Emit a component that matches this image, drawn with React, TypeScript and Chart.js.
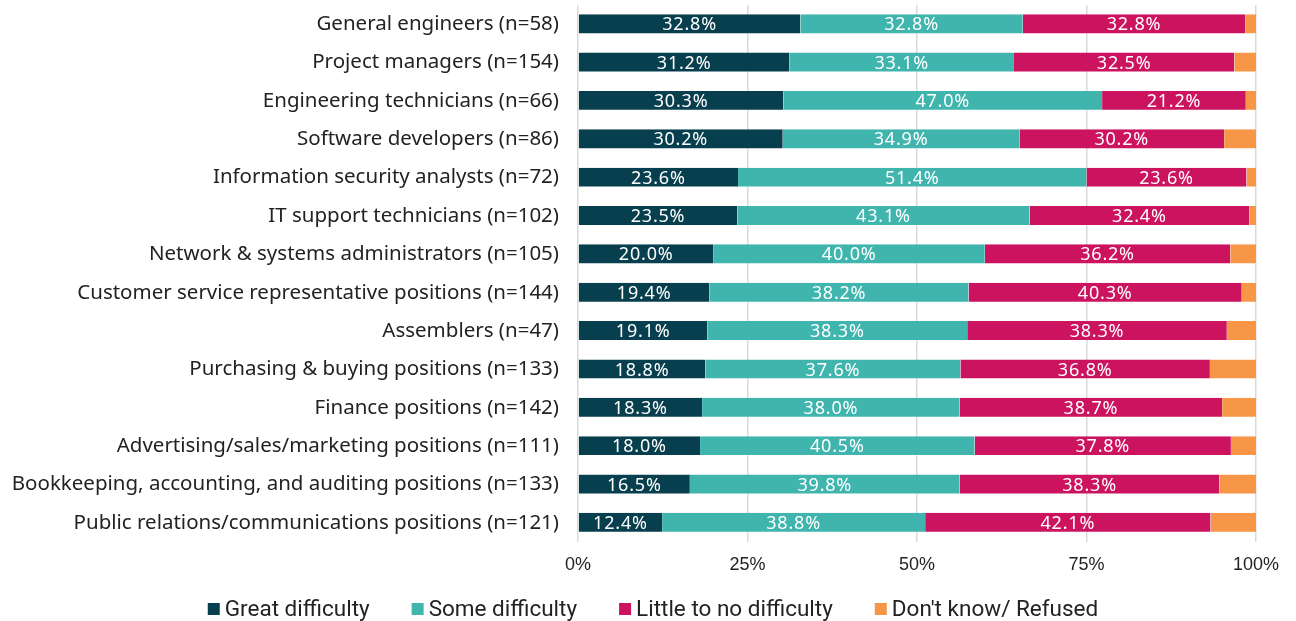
import React, { useEffect, useRef } from "react";
import { Chart, registerables } from "chart.js";

Chart.register(...registerables);

const categories = [
  "General engineers (n=58)",
  "Project managers (n=154)",
  "Engineering technicians (n=66)",
  "Software developers (n=86)",
  "Information security analysts (n=72)",
  "IT support technicians (n=102)",
  "Network & systems administrators (n=105)",
  "Customer service representative positions (n=144)",
  "Assemblers (n=47)",
  "Purchasing & buying positions (n=133)",
  "Finance positions (n=142)",
  "Advertising/sales/marketing positions (n=111)",
  "Bookkeeping, accounting, and auditing positions (n=133)",
  "Public relations/communications positions (n=121)",
];

const greatDifficulty = [32.8, 31.2, 30.3, 30.2, 23.6, 23.5, 20.0, 19.4, 19.1, 18.8, 18.3, 18.0, 16.5, 12.4];
const someDifficulty = [32.8, 33.1, 47.0, 34.9, 51.4, 43.1, 40.0, 38.2, 38.3, 37.6, 38.0, 40.5, 39.8, 38.8];
const littleDifficulty = [32.8, 32.5, 21.2, 30.2, 23.6, 32.4, 36.2, 40.3, 38.3, 36.8, 38.7, 37.8, 38.3, 42.1];
const dontKnow = [1.6, 3.2, 1.5, 4.7, 1.4, 1.0, 3.8, 2.1, 4.3, 6.8, 5.0, 3.7, 5.4, 6.7];

const seriesNames = ["Great difficulty", "Some difficulty", "Little to no difficulty", "Don't know/ Refused"];
const seriesColors = ["#083f4e", "#40b5ae", "#cc135f", "#f79646"];

const xTicks = [0, 25, 50, 75, 100];

const FONT = "'Noto Sans', 'Open Sans', sans-serif";

const labelPlugin = {
  id: "barLabels",
  afterDatasetsDraw(chart: any) {
    const ctx = chart.ctx;
    ctx.save();
    ctx.fillStyle = "#ffffff";
    ctx.font = `18px ${FONT}`;
    try {
      (ctx as any).letterSpacing = "0.8px";
    } catch (e) {}
    ctx.textAlign = "center";
    ctx.textBaseline = "middle";
    [0, 1, 2].forEach((di) => {
      const meta = chart.getDatasetMeta(di);
      const data = chart.data.datasets[di].data as number[];
      meta.data.forEach((bar: any, i: number) => {
        const cx = (bar.x + bar.base) / 2;
        ctx.fillText(data[i].toFixed(1) + "%", cx, bar.y + 1);
      });
    });
    ctx.restore();
  },
};

const legendPlugin = {
  id: "customLegend",
  afterDraw(chart: any) {
    const ctx = chart.ctx;
    ctx.save();
    ctx.font = `22.5px Roboto, sans-serif`;
    ctx.textBaseline = "middle";
    ctx.textAlign = "left";
    const box = 12;
    const gap = 5;
    const itemGap = 42;
    const y = 609;
    const widths = chart.data.datasets.map((d: any) => box + gap + ctx.measureText(d.label).width);
    const total = widths.reduce((a: number, b: number) => a + b, 0) + itemGap * (widths.length - 1);
    let x = (chart.width - total) / 2 + 5;
    chart.data.datasets.forEach((d: any, i: number) => {
      ctx.fillStyle = d.backgroundColor;
      ctx.fillRect(x, y - box / 2, box, box);
      ctx.fillStyle = "#222";
      ctx.fillText(d.label, x + box + gap, y + 1);
      x += widths[i] + itemGap;
    });
    ctx.restore();
  },
};

export default function App() {
  const ref = useRef<HTMLCanvasElement>(null);
  useEffect(() => {
    document.body.style.margin = "0";
    const values = [greatDifficulty, someDifficulty, littleDifficulty, dontKnow];
    const chart = new Chart(ref.current!, {
      type: "bar",
      data: {
        labels: categories,
        datasets: values.map((data, i) => ({
          label: seriesNames[i],
          data,
          backgroundColor: seriesColors[i],
          borderColor: "rgba(255,255,255,0.35)",
          borderWidth: { top: 0, left: 0, right: 0, bottom: 1 },
          barPercentage: 0.52,
          categoryPercentage: 1,
        })),
      },
      options: {
        indexAxis: "y",
        animation: false,
        responsive: false,
        maintainAspectRatio: false,
        layout: { padding: { top: 5, right: 40, left: 0, bottom: 47 } },
        scales: {
          x: {
            stacked: true,
            min: 0,
            max: 100,
            afterBuildTicks: (s: any) => {
              s.ticks = xTicks.map((v) => ({ value: v }));
            },
            afterFit: (s: any) => {
              s.height = 32;
            },
            ticks: {
              callback: (v: any) => v + "%",
              color: "#222",
              font: { family: "'Liberation Sans', Arial, sans-serif", size: 18 },
              padding: 12,
              maxRotation: 0,
            },
            grid: { color: "#d9d9d9", drawTicks: false, lineWidth: 1.5 },
            border: { display: false },
          },
          y: {
            stacked: true,
            afterFit: (s: any) => {
              s.width = 578;
              s.paddingTop = 0;
              s.paddingBottom = 0;
            },
            ticks: {
              color: "#222",
              font: { family: FONT, size: 20.5 },
              padding: 19,
            },
            grid: { display: false, drawTicks: false },
            border: { display: false },
          },
        },
        plugins: {
          legend: { display: false },
          tooltip: { enabled: false },
        },
      },
      plugins: [labelPlugin, legendPlugin],
    });
    return () => chart.destroy();
  }, []);
  return (
    <div style={{ width: 1296, height: 621 }}>
      <canvas ref={ref} width={1296} height={621} style={{ display: "block" }} />
    </div>
  );
}
